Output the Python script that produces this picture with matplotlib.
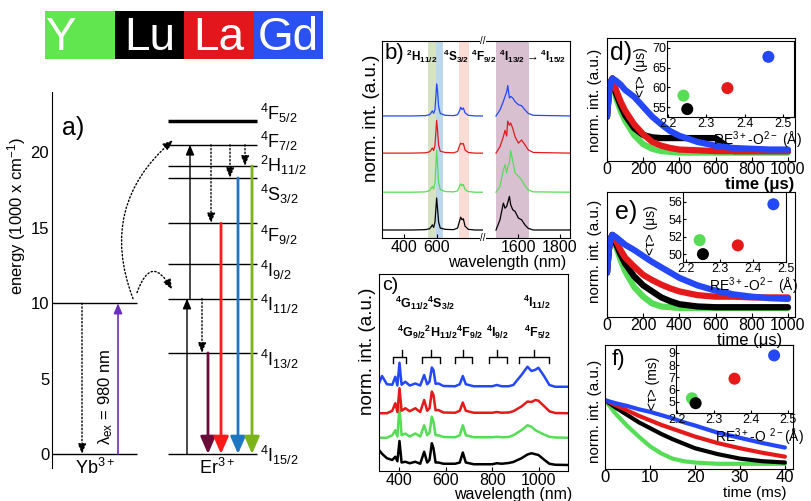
import matplotlib.pyplot as plt

plt.rcParams['font.family'] = ['Liberation Sans', 'DejaVu Sans']
plt.rcParams['mathtext.default'] = 'regular'
plt.rcParams['xtick.direction'] = 'in'
plt.rcParams['ytick.direction'] = 'in'

W, H = 811, 501

# hosts in the order Y, Lu, La, Gd
hosts = ['Y', 'Lu', 'La', 'Gd']
host_colors = ['#62e64f', '#000000', '#e3161b', '#2a52f3']
line_colors = ['#55dd55', '#000000', '#e41a1a', '#2448f7']

# a) energy levels (1000 cm^-1)
er_names = ['$^4$F$_{5/2}$', '$^4$F$_{7/2}$', '$^2$H$_{11/2}$', '$^4$S$_{3/2}$',
            '$^4$F$_{9/2}$', '$^4$I$_{9/2}$', '$^4$I$_{11/2}$', '$^4$I$_{13/2}$',
            '$^4$I$_{15/2}$']
er_energy = [22.1, 20.5, 19.1, 18.3, 15.3, 12.6, 10.3, 6.7, 0]
yb_energy = [0, 10]
emission_from = [6.7, 15.3, 18.3, 19.1]
emission_colors = ['#6b0b3a', '#ff1a1a', '#1f77c4', '#7bb31a']

# b) emission spectra, visible part and NIR part (normalized)
b_vis_nm = [267, 350, 450, 530, 555, 565, 572, 580, 588, 594, 598, 603, 610, 620,
            650, 700, 725, 738, 744, 752, 760, 770, 790, 830, 879]
b_vis_Y = [0, 0, 0, 0.01, 0.05, 0.12, 0.18, 0.1, 0.3, 0.9, 1.3, 0.9, 0.3, 0.08,
           0.02, 0.01, 0.04, 0.2, 0.26, 0.2, 0.24, 0.08, 0.02, 0, 0]
b_vis_Lu = [0, 0, 0, 0.01, 0.04, 0.1, 0.16, 0.08, 0.25, 0.7, 1.0, 0.7, 0.25, 0.06,
            0.02, 0.01, 0.06, 0.3, 0.4, 0.32, 0.35, 0.12, 0.02, 0, 0]
b_vis_La = [0, 0, 0, 0.01, 0.04, 0.1, 0.16, 0.08, 0.25, 0.7, 1.02, 0.75, 0.25, 0.06,
            0.02, 0.01, 0.05, 0.25, 0.31, 0.28, 0.3, 0.1, 0.02, 0, 0]
b_vis_Gd = [0, 0, 0, 0.01, 0.04, 0.1, 0.16, 0.08, 0.2, 0.65, 1.0, 0.8, 0.3, 0.08,
            0.02, 0.01, 0.04, 0.18, 0.27, 0.2, 0.25, 0.1, 0.02, 0, 0]
b_ir_nm = [1495, 1514, 1530, 1538, 1546, 1551, 1559, 1565, 1575, 1586, 1602, 1617,
           1633, 1649, 1673, 1848]
b_ir_Y = [0, 0.18, 0.7, 0.86, 0.6, 0.8, 0.92, 1.3, 0.97, 0.6, 0.5, 0.39, 0.2, 0.07, 0.01, 0]
b_ir_Lu = [0, 0.32, 0.84, 0.68, 0.74, 0.85, 1.05, 0.79, 0.63, 0.58, 0.37, 0.32, 0.16, 0.05, 0, 0]
b_ir_La = [0, 0.2, 0.51, 0.71, 0.53, 1.0, 0.87, 0.94, 0.77, 0.51, 0.31, 0.41, 0.26, 0.1, 0.02, 0]
b_ir_Gd = [0, 0.19, 0.45, 0.61, 0.75, 0.95, 0.56, 0.61, 0.56, 0.45, 0.35, 0.32, 0.19, 0.08, 0.02, 0]
b_offsets = [1.18, 0, 2.4, 3.56]
b_bands_vis = [(545, 594, '#d6e3c2'), (594, 636, '#bcd8ea'), (733, 794, '#fbdbd5')]
b_band_ir = (1495, 1652, '#d9c0d1')

# c) upconversion spectra
c_nm = [313, 326, 347, 370, 383, 392, 401, 410, 426, 445, 469, 490, 507, 520, 530,
        540, 547, 556, 568, 590, 640, 660, 673, 686, 720, 800, 819, 840, 870, 890,
        925, 951, 968, 985, 998, 1024, 1045, 1070, 1125]
c_Y = [0, 0, 0, 0.1, 0.3, 0.05, 1.25, 0.1, 0.17, 0.05, 0.17, 0.05, 0.5, 0.1, 0.2,
       0.84, 0.64, 0.1, 0.1, 0.03, 0.02, 0.1, 0.5, 0.1, 0.02, 0.02, 0.04, 0.02, 0.03,
       0.1, 0.3, 0.5, 0.44, 0.3, 0.24, 0.12, 0.04, 0.01, 0]
c_Lu = [0.6, 0.45, 0.27, 0.2, 0.33, 0.15, 0.96, 0.1, 0.13, 0.07, 0.13, 0.05, 0.53, 0.1,
        0.2, 0.87, 0.67, 0.1, 0.1, 0.05, 0.05, 0.1, 0.5, 0.1, 0.03, 0.03, 0.07, 0.05,
        0.08, 0.12, 0.27, 0.42, 0.47, 0.43, 0.4, 0.2, 0.05, 0.01, 0]
c_La = [0, 0, 0, 0.1, 0.4, 0.05, 1.0, 0.1, 0.2, 0.08, 0.2, 0.05, 0.53, 0.1, 0.2, 0.87,
        0.73, 0.12, 0.13, 0.03, 0.02, 0.1, 0.43, 0.1, 0.02, 0.02, 0.05, 0.02, 0.03,
        0.08, 0.27, 0.47, 0.45, 0.53, 0.5, 0.27, 0.08, 0.01, 0]
c_Gd = [0.13, 0.43, 0.1, 0.08, 0.4, 0.05, 0.96, 0.08, 0.2, 0.05, 0.13, 0.05, 0.47, 0.1,
        0.2, 0.77, 0.67, 0.12, 0.13, 0.03, 0.02, 0.1, 0.43, 0.1, 0.02, 0.02, 0.07, 0.02,
        0.02, 0.07, 0.47, 0.8, 0.63, 0.68, 0.76, 0.4, 0.07, 0, 0]
c_offsets = [1.09, 0, 2.07, 3.13]
bracket_lo = [373, 497, 640, 787, 914]
bracket_hi = [430, 573, 712, 862, 1043]
bracket_mid = [411, 536, 676, 819, 979]

# d) e) f) decays
t_us = [0, 10, 20, 30, 50, 75, 100, 150, 200, 250, 300, 350, 400, 500, 600, 700, 800, 900, 1000]
d_Y = [0.5, 0.8, 0.95, 1.0, 0.75, 0.58, 0.45, 0.26, 0.14, 0.08, 0.05, 0.04, 0.03, 0.03, 0.03, 0.03, 0.03, 0.03, 0.03]
d_Lu = [0.5, 0.8, 0.95, 1.0, 0.8, 0.65, 0.52, 0.35, 0.26, 0.23, 0.22, 0.22, 0.22, 0.22, 0.22, 0.05, 0.05, 0.05, 0.05]
d_La = [0.5, 0.8, 0.95, 1.0, 0.85, 0.7, 0.58, 0.4, 0.27, 0.17, 0.12, 0.09, 0.07, 0.06, 0.05, 0.05, 0.05, 0.05, 0.05]
d_Gd = [0.5, 0.8, 0.95, 1.0, 0.97, 0.92, 0.85, 0.76, 0.63, 0.5, 0.4, 0.31, 0.25, 0.17, 0.12, 0.09, 0.08, 0.07, 0.07]
e_Y = [0.5, 0.8, 0.95, 1.0, 0.85, 0.67, 0.52, 0.31, 0.18, 0.09, 0.05, 0.04, 0.03, 0.03, 0.03, 0.03, 0.03, 0.03, 0.03]
e_Lu = [0.5, 0.8, 0.95, 1.0, 0.88, 0.74, 0.62, 0.45, 0.33, 0.25, 0.17, 0.12, 0.08, 0.05, 0.04, 0.04, 0.04, 0.04, 0.04]
e_La = [0.5, 0.8, 0.95, 1.0, 0.92, 0.8, 0.7, 0.58, 0.47, 0.4, 0.34, 0.29, 0.25, 0.2, 0.18, 0.18, 0.17, 0.17, 0.17]
e_Gd = [0.5, 0.8, 0.95, 1.0, 0.97, 0.92, 0.87, 0.8, 0.72, 0.64, 0.57, 0.5, 0.43, 0.33, 0.26, 0.21, 0.18, 0.16, 0.15]
t_ms = [0, 2.5, 5, 7.5, 10, 12.5, 15, 17.5, 20, 25, 30, 35, 40]
f_Y = [1.0, 0.78, 0.6, 0.44, 0.29, 0.18, 0.1, 0.06, 0.04, 0.02, 0.02, 0.02, 0.02]
f_Lu = [1.0, 0.88, 0.77, 0.66, 0.57, 0.48, 0.4, 0.33, 0.26, 0.17, 0.1, 0.06, 0.04]
f_La = [1.0, 0.92, 0.84, 0.76, 0.69, 0.62, 0.56, 0.5, 0.44, 0.34, 0.26, 0.19, 0.13]
f_Gd = [1.0, 0.95, 0.91, 0.86, 0.82, 0.77, 0.72, 0.66, 0.61, 0.5, 0.42, 0.34, 0.27]

# insets: RE-O distance vs mean lifetime
re_o = [2.24, 2.25, 2.355, 2.462]
tau_d = [57.9, 54.5, 59.8, 67.7]
tau_e = [51.6, 50.0, 51.0, 55.7]
tau_f = [5.3, 4.9, 6.9, 8.8]


fig = plt.figure(figsize=(W / 100, H / 100), dpi=100)


def axes_at(l, t, r, b):
    return fig.add_axes([l / W, 1 - b / H, (r - l) / W, (b - t) / H])


def ftext(x, y, s, **kw):
    fig.text(x / W, 1 - y / H, s, **kw)


# ---- colour strip ----
ax0 = axes_at(45, 11, 323, 59)
ax0.bar(range(4), [1] * 4, width=1.0, color=host_colors)
ax0.set_xlim(-0.5, 3.5)
ax0.set_ylim(0, 1)
ax0.axis('off')
for i, h in enumerate(hosts):
    ax0.text(i - (0.28 if i == 0 else 0), 0.18, h, color='white', fontsize=33,
             ha='center', va='baseline')

# ---- a) energy diagram ----
axa = axes_at(52, 92, 265, 468)
axa.set_xlim(0, 213)
axa.set_ylim(-0.93, 24)
for s in ['top', 'right', 'bottom']:
    axa.spines[s].set_visible(False)
axa.set_xticks([])
axa.set_yticks([0, 5, 10, 15, 20])
axa.tick_params(axis='y', length=0, labelsize=12, pad=2)
ftext(17, 216, 'energy (1000 x cm$^{-1}$)', rotation=90, fontsize=12,
      ha='center', va='center')

axa.hlines(yb_energy, 0, 85, color='k', lw=1)
axa.hlines(er_energy, 116, 205, color='k', lw=[2.5] + [1] * 8)
label_shift = [0.5, 0.2, 0.0, -1.1, -0.8, -0.4, -0.4, -0.4, -0.1]
for e, name, sh in zip(er_energy, er_names, label_shift):
    axa.text(208, e + sh, name, fontsize=13, va='center', ha='left')


def arrow(ax, x, y0, y1, color='k', lw=1.0, ls='-', head='-|>,head_width=0.25,head_length=0.6', ms=10):
    ax.annotate('', xy=(x, y1), xytext=(x, y0),
                arrowprops=dict(arrowstyle=head, color=color, lw=lw, ls=ls,
                                shrinkA=0, shrinkB=0, mutation_scale=ms))


arrow(axa, 30, yb_energy[1], yb_energy[0], ls=':')
arrow(axa, 66, yb_energy[0], yb_energy[1], color='#6a2fc0', lw=1.2)
axa.text(54, 3.8, 'λ$_{ex}$ = 980 nm', rotation=90, fontsize=12, ha='center', va='center')
arrow(axa, 135, er_energy[8], er_energy[6])
arrow(axa, 138, er_energy[6], er_energy[1])
arrow(axa, 159, er_energy[1], er_energy[4], ls=':')
arrow(axa, 178, er_energy[1], er_energy[3], ls=':')
arrow(axa, 193, er_energy[1], er_energy[2], ls=':')
arrow(axa, 150, er_energy[6], er_energy[7], ls=':')
for x, e0, c in zip([156, 169, 186, 200], emission_from, emission_colors):
    arrow(axa, x, e0, 0, color=c, lw=2, head='-|>,head_width=0.35,head_length=0.8', ms=13)
axa.annotate('', xy=(121, 20.8), xytext=(81, 10.3),
             arrowprops=dict(arrowstyle='-|>,head_width=0.25,head_length=0.6', ls=':',
                             color='k', lw=1, connectionstyle='arc3,rad=-0.35',
                             shrinkA=0, shrinkB=0, mutation_scale=10))
axa.annotate('', xy=(120, 10.9), xytext=(85, 10.7),
             arrowprops=dict(arrowstyle='-|>,head_width=0.25,head_length=0.6', ls=':',
                             color='k', lw=1, connectionstyle='arc3,rad=-1.1',
                             shrinkA=0, shrinkB=0, mutation_scale=10))
axa.text(43, -0.9, 'Yb$^{3+}$', fontsize=13, ha='center', va='center')
axa.text(165, -0.9, 'Er$^{3+}$', fontsize=13, ha='center', va='center')
axa.text(10, 21.6, 'a)', fontsize=18, ha='left', va='center')

# ---- b) emission spectra (broken axis) ----
axb1 = axes_at(382, 41, 483, 238)
axb2 = axes_at(483, 41, 570, 238)
b_vis = [b_vis_Y, b_vis_Lu, b_vis_La, b_vis_Gd]
b_ir = [b_ir_Y, b_ir_Lu, b_ir_La, b_ir_Gd]
for lo, hi, c in b_bands_vis:
    axb1.axvspan(lo, hi, color=c, lw=0)
axb2.axvspan(b_band_ir[0], b_band_ir[1], color=b_band_ir[2], lw=0)
for i in range(4):
    axb1.plot(b_vis_nm, [v + b_offsets[i] for v in b_vis[i]], color=line_colors[i], lw=0.9)
    axb2.plot(b_ir_nm, [v + b_offsets[i] for v in b_ir[i]], color=line_colors[i], lw=0.9)
axb1.set_xlim(267, 879)
axb2.set_xlim(1433, 1848)
for ax in (axb1, axb2):
    ax.set_ylim(-0.25, 5.9)
    ax.set_yticks([])
    ax.tick_params(axis='x', labelsize=11.5, pad=1.5, length=3)
axb1.spines['right'].set_visible(False)
axb2.spines['left'].set_visible(False)
axb1.set_xticks([400, 600])
axb2.set_xticks([1600, 1800])
for y in (41, 238):
    ftext(483, y, '//', fontsize=7, ha='center', va='center',
          bbox=dict(facecolor='white', edgecolor='none', pad=0))
ftext(507, 262, 'wavelength (nm)', fontsize=11.5, ha='center', va='center')
ftext(372, 118, 'norm. int. (a.u.)', fontsize=13.5, rotation=90, ha='center', va='center')
ftext(385, 53, 'b)', fontsize=16, ha='left', va='center')
for x, s in zip([406, 443, 471, 499],
                ['$^2$H$_{11/2}$', '$^4$S$_{3/2}$', '$^4$F$_{9/2}$',
                 '$^4$I$_{13/2}$$\\rightarrow$$^4$I$_{15/2}$']):
    ftext(x, 56, s, fontsize=8.5, fontweight='bold', ha='left', va='center')

# ---- c) upconversion spectra ----
axc = axes_at(379, 274, 568, 471)
c_data = [c_Y, c_Lu, c_La, c_Gd]
for i in range(4):
    axc.plot(c_nm, [v + c_offsets[i] for v in c_data[i]], color=line_colors[i], lw=1.8)
axc.set_xlim(313, 1125)
axc.set_ylim(-0.24, 7.64)
axc.set_yticks([])
axc.set_xticks([400, 600, 800, 1000])
axc.tick_params(axis='x', labelsize=11.5, pad=1.5, length=3)
for lo, hi, mid in zip(bracket_lo, bracket_hi, bracket_mid):
    axc.plot([lo, lo, hi, hi], [4.07, 4.31, 4.31, 4.07], color='k', lw=1)
    axc.plot([mid, mid], [4.31, 4.6], color='k', lw=1)
ftext(513, 495, 'wavelength (nm)', fontsize=11.5, ha='center', va='center')
ftext(368, 351, 'norm. int. (a.u.)', fontsize=13.5, rotation=90, ha='center', va='center')
ftext(382, 286, 'c)', fontsize=14, ha='left', va='center')
for x, y, s in [(395, 303, '$^4$G$_{11/2}$$^4$S$_{3/2}$'),
                (397, 332, '$^4$G$_{9/2}$$^2$H$_{11/2}$$^4$F$_{9/2}$'),
                (486, 332, '$^4$I$_{9/2}$'),
                (523, 302, '$^4$I$_{11/2}$'),
                (524, 332, '$^4$F$_{5/2}$')]:
    ftext(x, y, s, fontsize=9, fontweight='bold', ha='left', va='center')


# ---- d) e) f) decays with insets ----
def decay_panel(box, t, curves, xlim, ylim, xticks, lw, size):
    ax = axes_at(*box)
    for i in range(4):
        ax.plot(t, curves[i], color=line_colors[i], lw=lw, solid_capstyle='round')
    ax.set_xlim(*xlim)
    ax.set_ylim(*ylim)
    ax.set_yticks([])
    ax.set_xticks(xticks)
    ax.tick_params(axis='x', labelsize=size, pad=1, length=3)
    return ax


def inset(box, tau, xlim, ylim, yticks):
    ax = axes_at(*box)
    ax.set_facecolor('white')
    ax.scatter(re_o, tau, s=75, c=line_colors, edgecolors='none', zorder=3)
    ax.set_xlim(*xlim)
    ax.set_ylim(*ylim)
    ax.set_xticks([2.2, 2.3, 2.4, 2.5])
    ax.set_yticks(yticks)
    ax.tick_params(labelsize=9, pad=0.5, length=2)
    return ax


axd = decay_panel((607, 38, 795, 161), t_us, [d_Y, d_Lu, d_La, d_Gd],
                  (0, 1039), (-0.08, 1.53), [0, 200, 400, 600, 800, 1000], 4.5, 11.5)
axe = decay_panel((607, 192, 795, 317), t_us, [e_Y, e_Lu, e_La, e_Gd],
                  (0, 1039), (-0.09, 1.57), [0, 200, 400, 600, 800, 1000], 4.5, 11.5)
axf = decay_panel((605, 345, 793, 469), t_ms, [f_Y, f_Lu, f_La, f_Gd],
                  (0, 41.8), (-0.06, 1.85), [0, 10, 20, 30, 40], 3, 12)

inset((667, 41, 794, 117), tau_d, (2.197, 2.529), (52.5, 71.7), [55, 60, 65, 70])
inset((683, 192, 786, 262), tau_e, (2.19, 2.5), (49.1, 57.1), [50, 52, 54, 56])
inset((676, 345, 793, 413), tau_f, (2.197, 2.513), (4.1, 9.65), [5, 6, 7, 8, 9])

ftext(757, 140, 'RE$^{3+}$-O$^{2-}$ (Å)', fontsize=10, ha='center', va='center')
ftext(753, 286, 'RE$^{3+}$-O$^{2-}$ (Å)', fontsize=10, ha='center', va='center')
ftext(759, 437, 'RE$^{3+}$-O $^{2-}$(Å)', fontsize=10, ha='center', va='center')
ftext(641, 72, '<τ> (μs)', fontsize=10, rotation=90, ha='center', va='center')
ftext(651, 230, '<τ> (μs)', fontsize=10, rotation=90, ha='center', va='center')
ftext(653, 383, '<τ> (ms)', fontsize=10, rotation=90, ha='center', va='center')

ftext(760, 185, 'time (μs)', fontsize=12, fontweight='bold', ha='center', va='center')
ftext(750, 341, 'time (μs)', fontsize=12, ha='center', va='center')
ftext(755, 493, 'time (ms)', fontsize=11, ha='center', va='center')
for y in (100, 251, 411):
    ftext(595, y, 'norm. int. (a.u.)', fontsize=11, rotation=90, ha='center', va='center')
ftext(610, 53, 'd)', fontsize=18, ha='left', va='center')
ftext(615, 212, 'e)', fontsize=18, ha='left', va='center')
ftext(612, 360, 'f)', fontsize=16, ha='left', va='center')

fig.savefig('out.png', dpi=100)
